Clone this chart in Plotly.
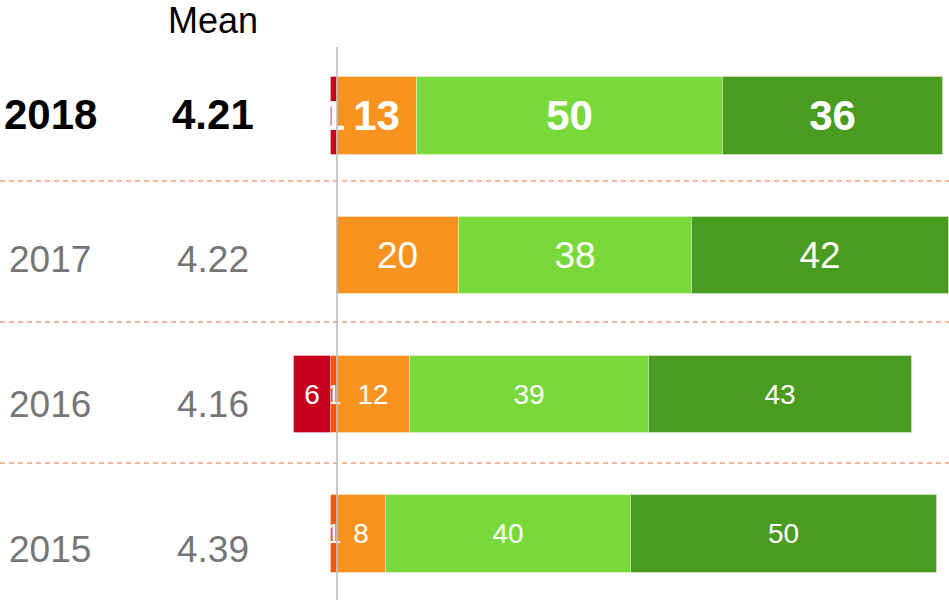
import plotly.graph_objects as go

# ---- data ----
years = ["2018", "2017", "2016", "2015"]
means = ["4.21", "4.22", "4.16", "4.39"]
very_neg = [1, 0, 6, 0]      # red
neg = [0, 0, 1, 1]           # orange-red
neutral = [13, 20, 12, 8]    # orange
pos = [50, 38, 39, 40]       # light green
very_pos = [36, 42, 43, 50]  # dark green

# ---- styles ----
FONT = "Arial, Liberation Sans, sans-serif"
colors = {
    "very_neg": "#C8001E",
    "neg": "#F05A0A",
    "neutral": "#F7931E",
    "pos": "#7AD93A",
    "very_pos": "#4A9C20",
}
row_text_size = [42, 37, 28, 28]
row_bold = [True, False, False, False]
label_size = [42, 37, 37, 37]
label_color = ["#000000", "#767676", "#767676", "#767676"]

rows = list(range(len(years)))


def fmt(v, i):
    if not v:
        return ""
    s = str(v)
    return f"<b>{s}</b>" if row_bold[i] else s


fig = go.Figure()

series = [
    ("neutral", neutral, 1),
    ("pos", pos, 1),
    ("very_pos", very_pos, 1),
    ("neg", neg, -1),
    ("very_neg", very_neg, -1),
]
for name, vals, sign in series:
    fig.add_trace(go.Bar(
        y=rows,
        x=[sign * v if v else None for v in vals],
        orientation="h",
        width=0.557,
        marker=dict(color=colors[name], line=dict(color="rgba(255,255,255,0.35)", width=1)),
        text=[fmt(v, i) for i, v in enumerate(vals)],
        textposition="inside",
        insidetextanchor="middle",
        textangle=0,
        constraintext="none",
        textfont=dict(family=FONT, color="white", size=row_text_size),
        hoverinfo="skip",
        showlegend=False,
        cliponaxis=False,
    ))

px_per_unit = 6.12
zero_px = 337
W, H = 949, 600
x_min = -zero_px / px_per_unit
x_max = (W - zero_px) / px_per_unit

row_px = 139.2
row0_px = 116.2
y_top = -row0_px / row_px
y_bot = (H - row0_px) / row_px

year_x = (50 - zero_px) / px_per_unit
mean_x = (213 - zero_px) / px_per_unit
label_y0 = -0.01
label_step = 145 / row_px

annotations = [dict(
    x=mean_x, y=(20 - row0_px) / row_px, xref="x", yref="y",
    text="Mean", showarrow=False, xanchor="center", yanchor="middle",
    font=dict(family=FONT, size=36, color="#000000"),
)]
for i in rows:
    yv = label_y0 + i * label_step
    yt = f"<b>{years[i]}</b>" if row_bold[i] else years[i]
    mt = f"<b>{means[i]}</b>" if row_bold[i] else means[i]
    annotations.append(dict(x=year_x, y=yv, xref="x", yref="y", text=yt, showarrow=False,
                            xanchor="center", yanchor="middle",
                            font=dict(family=FONT, size=label_size[i], color=label_color[i])))
    annotations.append(dict(x=mean_x, y=yv, xref="x", yref="y", text=mt, showarrow=False,
                            xanchor="center", yanchor="middle",
                            font=dict(family=FONT, size=label_size[i], color=label_color[i])))

shapes = []
sep_y = [0.466, 1.478, 2.491]
for s in sep_y:
    shapes.append(dict(type="line", xref="paper", x0=0, x1=1, yref="y", y0=s, y1=s,
                       line=dict(color="#F5A07A", width=1.4, dash="5px,4px"), layer="below"))
shapes.append(dict(type="line", xref="x", x0=0, x1=0, yref="y", y0=(47 - row0_px) / row_px, y1=y_bot,
                   line=dict(color="#B8B8B8", width=1.5), layer="above"))

fig.update_layout(
    width=W, height=H,
    margin=dict(l=0, r=0, t=0, b=0),
    paper_bgcolor="white", plot_bgcolor="white",
    barmode="relative",
    bargap=0,
    xaxis=dict(range=[x_min, x_max], visible=False, fixedrange=True),
    yaxis=dict(range=[y_bot, y_top], visible=False, fixedrange=True),
    annotations=annotations,
    shapes=shapes,
    showlegend=False,
)

fig.write_html(
    "out.html",
    config={"displayModeBar": False},
    post_script="document.body.style.margin='0';document.body.style.overflow='hidden';",
)
